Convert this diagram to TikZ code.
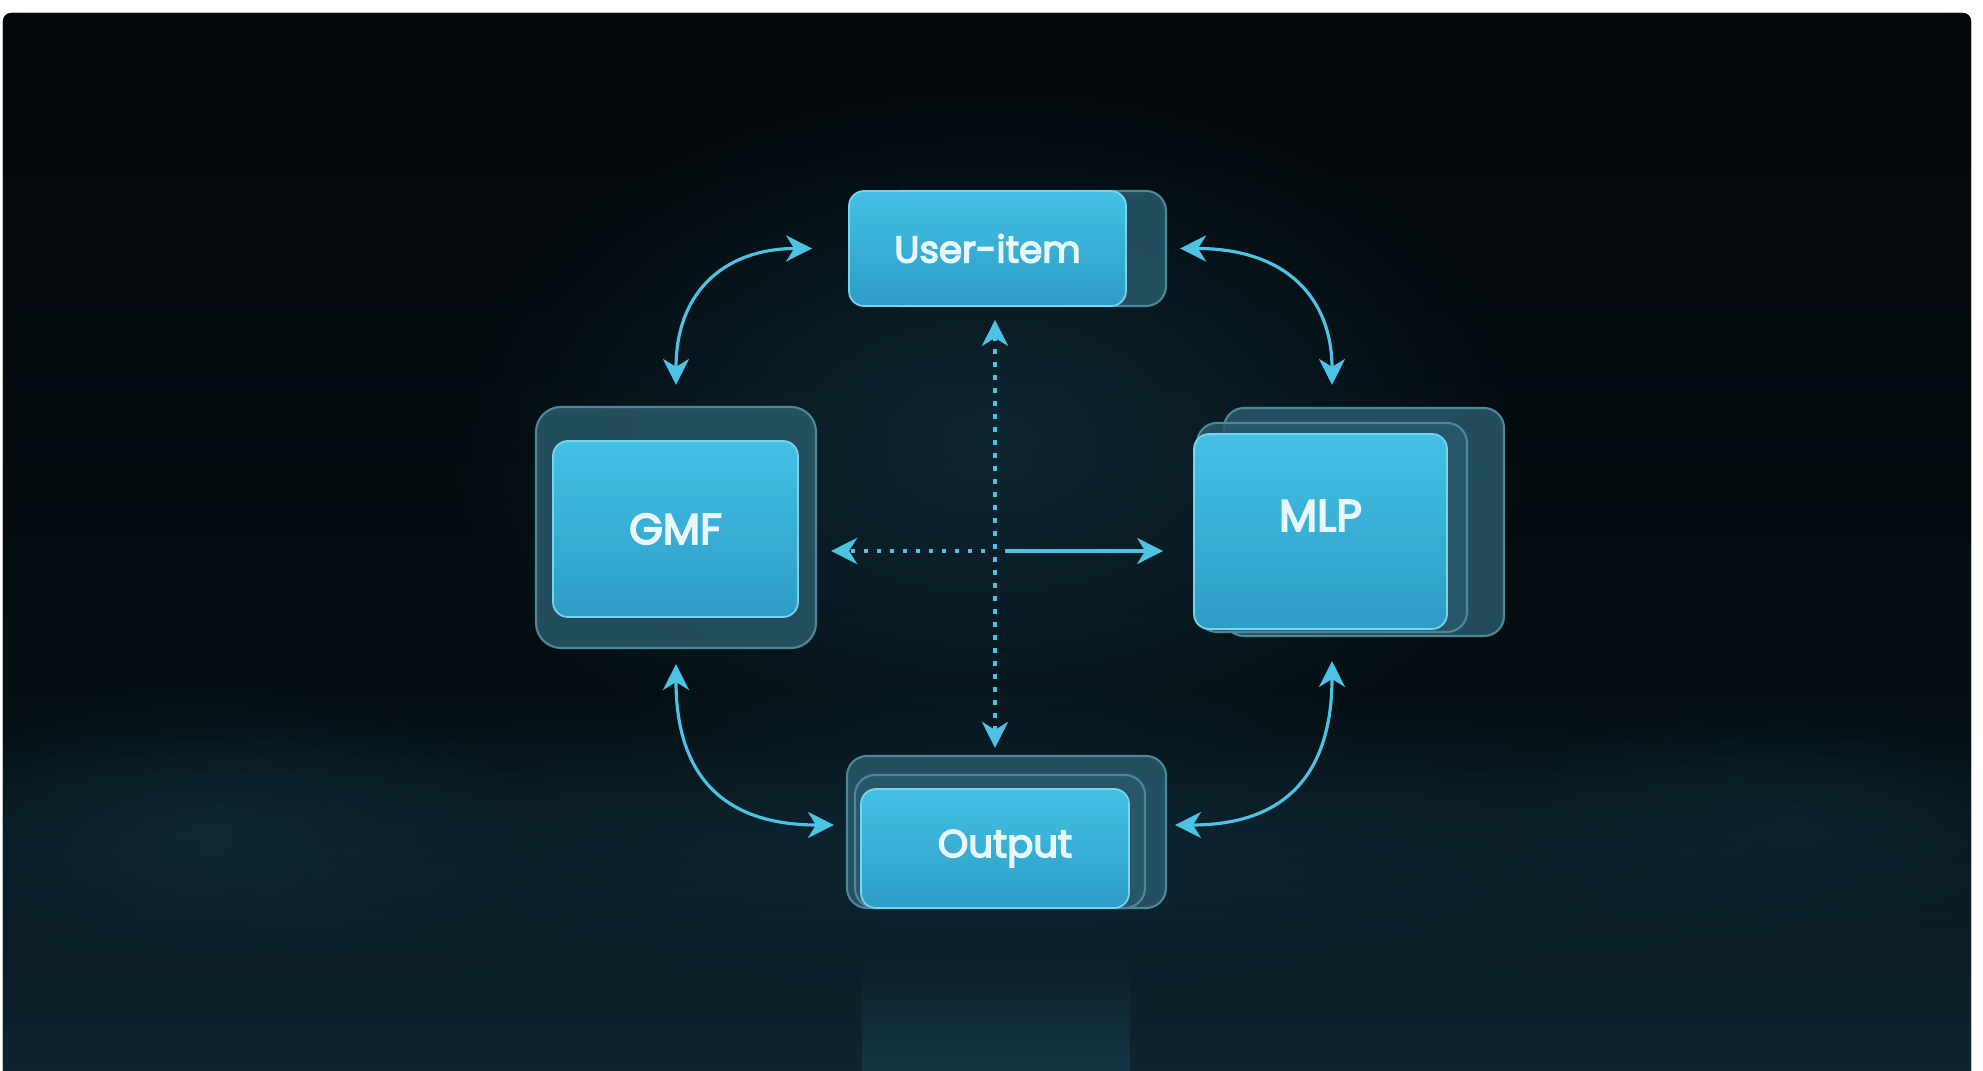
\documentclass[tikz,border=0pt]{standalone}
\usepackage{fontspec}
\usepackage{xcolor}
\usepackage{tikz}
\usetikzlibrary{arrows.meta,fadings}

\newfontfamily\boxfont[FakeBold=4]{Poppins}

\definecolor{bgtop}{HTML}{020507}
\definecolor{bgupper}{HTML}{03090D}
\definecolor{bgmid}{HTML}{050F14}
\definecolor{bghorizon}{HTML}{0B1E27}
\definecolor{bgfloor}{HTML}{102B37}
\definecolor{bglow}{HTML}{0D2530}
\definecolor{bgbase}{HTML}{0A1C24}
\definecolor{haze}{HTML}{1A4A5E}
\definecolor{wirecol}{HTML}{4CC3E4}
\definecolor{cardhi}{HTML}{44C0E5}
\definecolor{cardlo}{HTML}{2D9DC6}
\definecolor{cardrim}{HTML}{78D4EE}
\definecolor{stackfill}{HTML}{285869}
\definecolor{stackrim}{HTML}{4E8798}
\definecolor{labeltext}{HTML}{E8F7FB}

% backdrop: dark room, teal floor towards the bottom
\pgfdeclareverticalshading{backdrop}{100bp}{%
  color(0bp)=(bgbase); color(12bp)=(bglow); color(22bp)=(bgfloor);
  color(31bp)=(bghorizon); color(42bp)=(bgmid); color(63bp)=(bgupper);
  color(100bp)=(bgtop)}

\tikzfading[name=softglow, inner color=transparent!0, outer color=transparent!100]
\tikzfading[name=beamfade, top color=transparent!100, bottom color=transparent!45]

\begin{document}
\begin{tikzpicture}[>={Stealth[length=2.6mm,width=2.6mm,inset=0.8mm]},
            wire/.style={draw=wirecol, line width=0.9pt},
            dotwire/.style={wire, line width=1.3pt, dash pattern=on 1.2pt off 2.5pt}]
        \tikzstyle{stack}=[draw=stackrim, fill=stackfill, fill opacity=0.85,
            line width=0.6pt, rounded corners=2mm, inner sep=0pt]
        \tikzstyle{card}=[draw=cardrim, top color=cardhi, bottom color=cardlo,
            line width=0.5pt, rounded corners=1.5mm, inner sep=0pt, text=labeltext]
        \tikzstyle{lbl}=[text=labeltext, inner sep=0pt]

        \useasboundingbox (0,0) rectangle (19.83,10.71);
        \fill[white] (0,0) rectangle (19.83,10.71);
        \fill[shading=backdrop, rounded corners=0.8mm] (0.03,-0.3) rectangle (19.71,10.58);

        % ambient light behind the modules and on the floor
        \begin{scope}
            \clip (0.03,0) rectangle (19.71,10.58);
            \fill[haze, path fading=softglow, fill opacity=0.45] (9.9,6.3) ellipse (5.5 and 3.6);
            \fill[haze, path fading=softglow, fill opacity=0.3] (2.0,2.4) ellipse (3.4 and 1.5);
            \fill[haze, path fading=softglow, fill opacity=0.2] (17.9,2.5) ellipse (3.0 and 1.3);
            \fill[haze, path fading=softglow, fill opacity=0.3] (9.9,2.3) ellipse (12 and 1.6);
            \fill[haze, path fading=beamfade, fill opacity=0.8] (8.62,0) rectangle (11.30,1.2);
        \end{scope}

        % modules, back layers first
        \node[stack, minimum width=2.86cm, minimum height=1.15cm] (user-b) at (10.23,8.225) {};
        \node[card, minimum width=2.77cm, minimum height=1.15cm,
            font=\boxfont\fontsize{10.6}{12}\selectfont] (user) at (9.875,8.225) {User-item};

        \node[stack, minimum width=2.80cm, minimum height=2.41cm, rounded corners=2.5mm] (gmf-b) at (6.76,5.435) {};
        \node[card, minimum width=2.45cm, minimum height=1.76cm,
            font=\boxfont\fontsize{12.3}{14}\selectfont] (gmf) at (6.755,5.42) {GMF};

        \node[stack, minimum width=2.80cm, minimum height=2.28cm] (mlp-b2) at (13.64,5.49) {};
        \node[stack, minimum width=2.70cm, minimum height=2.09cm] (mlp-b1) at (13.32,5.435) {};
        \node[card, minimum width=2.53cm, minimum height=1.95cm] (mlp) at (13.205,5.395) {};
        \node[lbl, font=\boxfont\fontsize{12.6}{14}\selectfont] (mlp-t) at ([yshift=0.16cm]mlp.center) {MLP};

        \node[stack, minimum width=3.19cm, minimum height=1.52cm] (out-b2) at (10.065,2.39) {};
        \node[stack, minimum width=2.90cm, minimum height=1.33cm] (out-b1) at (10.0,2.295) {};
        \node[card, minimum width=2.68cm, minimum height=1.19cm] (out) at (9.95,2.225) {};
        \node[lbl, font=\boxfont\fontsize{11}{13}\selectfont] (out-t) at ([xshift=0.1cm]out.center) {Output};

        % curved links around the ring
        \draw[wire, <->, shorten <=2.1mm, shorten >=3.6mm]
            (gmf-b.north) to[out=90,in=180,looseness=1.3] (user.west);
        \draw[wire, <->, shorten <=1.3mm, shorten >=3.7mm]
            (user-b.east) to[out=0,in=90,looseness=1.3] (mlp-b1.north);
        \draw[wire, <->, shorten <=1.5mm, shorten >=1.2mm]
            (gmf-b.south) to[out=-90,in=180,looseness=1.3] ([yshift=0.7mm]out-b2.west);
        \draw[wire, <->, shorten <=2.8mm, shorten >=0.8mm]
            (mlp-b1.south) to[out=-90,in=0,looseness=1.3] ([yshift=0.7mm]out-b2.east);

        % cross in the middle
        \coordinate (hub) at (9.95,5.20);
        \draw[dotwire, <->, shorten <=1.3mm, shorten >=0.7mm] (user.south -| hub) -- (out-b2.north -| hub);
        \draw[dotwire, ->, shorten >=1.4mm] ([xshift=-1mm]hub) -- (hub -| gmf-b.east);
        \draw[wire, ->, shorten >=3mm] ([xshift=1mm]hub) -- (hub -| mlp.west);
    \end{tikzpicture}
\end{document}
